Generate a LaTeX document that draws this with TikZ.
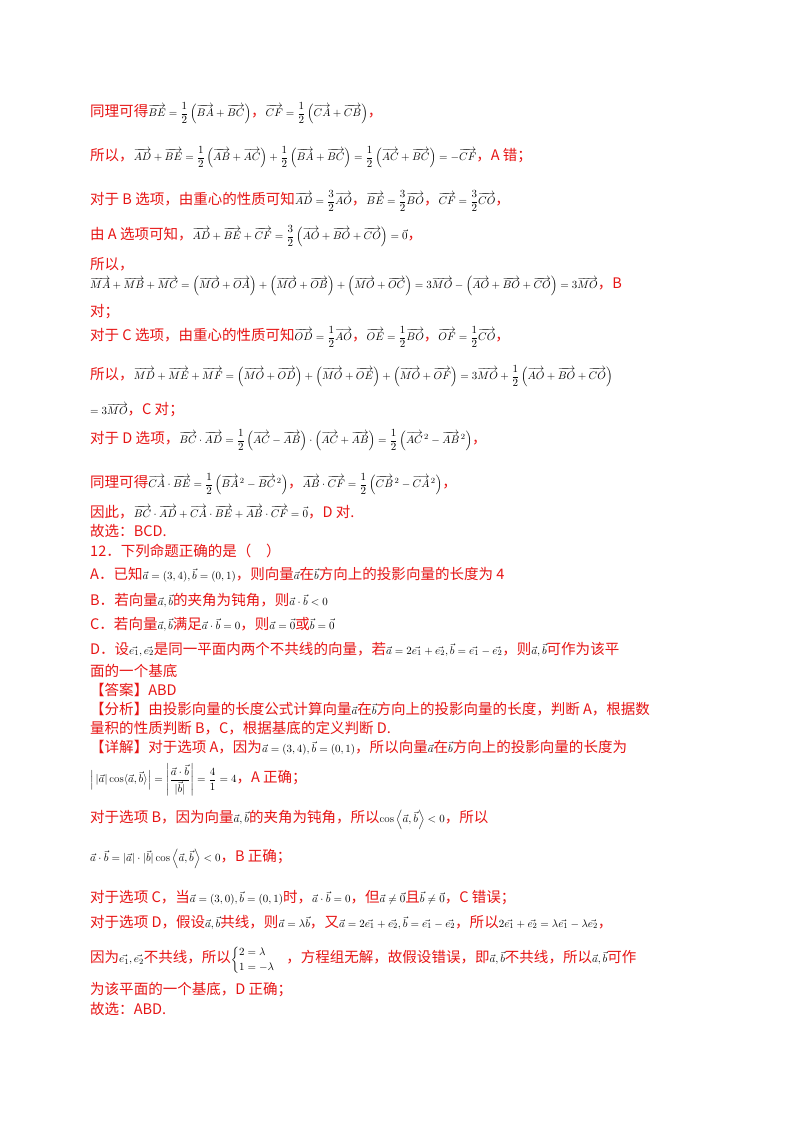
\documentclass[tikz,border=0pt]{standalone}
\usepackage{amsmath}
\usepackage{fontspec}
\newfontfamily\cjk[Scale=1.32]{Noto Sans CJK SC}
\definecolor{rd}{RGB}{230,20,20}
\newcommand{\R}[1]{{\color{rd}\cjk #1}}
\newcommand{\V}[1]{\overrightarrow{#1}}
\begin{document}
\begin{tikzpicture}[x=1pt,y=-1pt,every node/.style={anchor=west,inner sep=0pt,font=\fontsize{11}{12}\selectfont}]
\useasboundingbox (0,0) rectangle (800,1132);
\node (l1) at (90,113) {\R{同理可得}$\V{BE}=\dfrac12\left(\V{BA}+\V{BC}\right)$\R{，}$\V{CF}=\dfrac12\left(\V{CA}+\V{CB}\right)$\R{，}};
\node (l2) at (90,157) {\R{所以，}$\V{AD}+\V{BE}=\dfrac12\left(\V{AB}+\V{AC}\right)+\dfrac12\left(\V{BA}+\V{BC}\right)=\dfrac12\left(\V{AC}+\V{BC}\right)=-\V{CF}$\R{，A 错；}};
\node (l3) at (90,201) {\R{对于 B 选项，由重心的性质可知}$\V{AD}=\dfrac32\V{AO}$\R{，}$\V{BE}=\dfrac32\V{BO}$\R{，}$\V{CF}=\dfrac32\V{CO}$\R{，}};
\node (l4) at (90,236) {\R{由 A 选项可知，}$\V{AD}+\V{BE}+\V{CF}=\dfrac32\left(\V{AO}+\V{BO}+\V{CO}\right)=\vec0$\R{，}};
\node (l5) at (90,264) {\R{所以，}};
\node (l6) at (90,286) {$\V{MA}+\V{MB}+\V{MC}=\left(\V{MO}+\V{OA}\right)+\left(\V{MO}+\V{OB}\right)+\left(\V{MO}+\V{OC}\right)=3\V{MO}-\left(\V{AO}+\V{BO}+\V{CO}\right)=3\V{MO}$\R{，B}};
\node (l7) at (90,312) {\R{对；}};
\node (l8) at (90,337) {\R{对于 C 选项，由重心的性质可知}$\V{OD}=\dfrac12\V{AO}$\R{，}$\V{OE}=\dfrac12\V{BO}$\R{，}$\V{OF}=\dfrac12\V{CO}$\R{，}};
\node (l9) at (90,376) {\R{所以，}$\V{MD}+\V{ME}+\V{MF}=\left(\V{MO}+\V{OD}\right)+\left(\V{MO}+\V{OE}\right)+\left(\V{MO}+\V{OF}\right)=3\V{MO}+\dfrac12\left(\V{AO}+\V{BO}+\V{CO}\right)$};
\node (l10) at (90,410) {$=3\V{MO}$\R{，C 对；}};
\node (l11) at (90,440) {\R{对于 D 选项，}$\V{BC}\cdot\V{AD}=\dfrac12\left(\V{AC}-\V{AB}\right)\cdot\left(\V{AC}+\V{AB}\right)=\dfrac12\left(\V{AC}^{\,2}-\V{AB}^{\,2}\right)$\R{，}};
\node (l12) at (90,484) {\R{同理可得}$\V{CA}\cdot\V{BE}=\dfrac12\left(\V{BA}^{\,2}-\V{BC}^{\,2}\right)$\R{，}$\V{AB}\cdot\V{CF}=\dfrac12\left(\V{CB}^{\,2}-\V{CA}^{\,2}\right)$\R{，}};
\node (l13) at (90,512) {\R{因此，}$\V{BC}\cdot\V{AD}+\V{CA}\cdot\V{BE}+\V{AB}\cdot\V{CF}=\vec0$\R{，D 对.}};
\node (l14) at (90,531) {\R{故选：BCD.}};
\node (l15) at (90,551) {\R{12．下列命题正确的是（\quad）}};
\node (l16) at (90,575) {\R{A．已知}$\vec a=(3,4),\vec b=(0,1)$\R{，则向量}$\vec a$\R{在}$\vec b$\R{方向上的投影向量的长度为 4}};
\node (l17) at (90,600) {\R{B．若向量}$\vec a,\vec b$\R{的夹角为钝角，则}$\vec a\cdot\vec b<0$};
\node (l18) at (90,624) {\R{C．若向量}$\vec a,\vec b$\R{满足}$\vec a\cdot\vec b=0$\R{，则}$\vec a=\vec0$\R{或}$\vec b=\vec0$};
\node (l19) at (90,649) {\R{D．设}$\vec{e_1},\vec{e_2}$\R{是同一平面内两个不共线的向量，若}$\vec a=2\vec{e_1}+\vec{e_2},\vec b=\vec{e_1}-\vec{e_2}$\R{，则}$\vec a,\vec b$\R{可作为该平}};
\node (l20) at (90,671) {\R{面的一个基底}};
\node (l21) at (90,690) {\R{【答案】ABD}};
\node (l22) at (90,709) {\R{【分析】由投影向量的长度公式计算向量}$\vec a$\R{在}$\vec b$\R{方向上的投影向量的长度，判断 A，根据数}};
\node (l23) at (90,728) {\R{量积的性质判断 B，C，根据基底的定义判断 D.}};
\node (l24) at (90,748) {\R{【详解】对于选项 A，因为}$\vec a=(3,4),\vec b=(0,1)$\R{，所以向量}$\vec a$\R{在}$\vec b$\R{方向上的投影向量的长度为}};
\node (l25) at (90,780) {$\Bigl|\,|\vec a|\cos\langle\vec a,\vec b\rangle\Bigr|=\left|\dfrac{\vec a\cdot\vec b}{|\vec b|}\right|=\dfrac41=4$\R{，A 正确；}};
\node (l26) at (90,820) {\R{对于选项 B，因为向量}$\vec a,\vec b$\R{的夹角为钝角，所以}$\cos\left\langle\vec a,\vec b\right\rangle<0$\R{，所以}};
\node (l27) at (90,859) {$\vec a\cdot\vec b=|\vec a|\cdot|\vec b|\cos\left\langle\vec a,\vec b\right\rangle<0$\R{，B 正确；}};
\node (l28) at (90,898) {\R{对于选项 C，当}$\vec a=(3,0),\vec b=(0,1)$\R{时，}$\vec a\cdot\vec b=0$\R{，但}$\vec a\neq\vec0$\R{且}$\vec b\neq\vec0$\R{，C 错误；}};
\node (l29) at (90,922) {\R{对于选项 D，假设}$\vec a,\vec b$\R{共线，则}$\vec a=\lambda\vec b$\R{，又}$\vec a=2\vec{e_1}+\vec{e_2},\vec b=\vec{e_1}-\vec{e_2}$\R{，所以}$2\vec{e_1}+\vec{e_2}=\lambda\vec{e_1}-\lambda\vec{e_2}$\R{，}};
\node (l30) at (90,960) {\R{因为}$\vec{e_1},\vec{e_2}$\R{不共线，所以}$\begin{cases}2=\lambda\\1=-\lambda\end{cases}$\R{，方程组无解，故假设错误，即}$\vec a,\vec b$\R{不共线，所以}$\vec a,\vec b$\R{可作}};
\node (l31) at (90,990) {\R{为该平面的一个基底，D 正确；}};
\node (l32) at (90,1009) {\R{故选：ABD.}};
\end{tikzpicture}
\end{document}
